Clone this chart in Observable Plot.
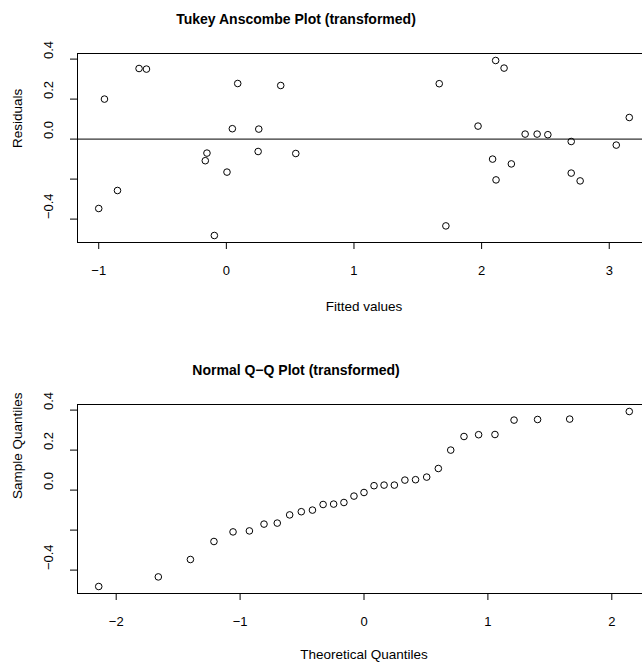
<!DOCTYPE html>
<html>
<head>
<meta charset="utf-8">
<script src="https://cdn.jsdelivr.net/npm/d3@7"></script>
<script src="https://cdn.jsdelivr.net/npm/@observablehq/plot@0.6"></script>
<style>
  html, body { margin: 0; padding: 0; background: white; }
  #wrap { position: relative; width: 642px; height: 662px; overflow: hidden; background: white;
          font-family: "Liberation Sans", Arial, Helvetica, sans-serif; }
  .panel { position: absolute; left: 0; z-index: 1; }
  .panel svg { max-width: none !important; display: block; }
  .main { position: absolute; z-index: 5; font-weight: bold; font-size: 14px; line-height: 14px;
          white-space: nowrap; transform: translateX(-50%); color: black; }
</style>
</head>
<body>
<div id="wrap">
  <div class="panel" id="p1" style="top:0px;"></div>
  <div class="panel" id="p2" style="top:351px;"></div>
  <div class="main" style="left:296px; top:11.5px;">Tukey Anscombe Plot (transformed)</div>
  <div class="main" style="left:296px; top:362.5px;">Normal Q−Q Plot (transformed)</div>
</div>
<script>
// ---- Tukey–Anscombe plot data (fitted value, residual) ----
const fittedValues = [
  -0.955, -0.684, -0.626, 0.089, 0.426, 0.047, 0.254, -0.152, -0.165, 0.249,
   0.544,  0.005, -0.853, -1.000, -0.094, 2.110, 2.176, 1.668, 1.972, 2.341,
   2.435,  2.519,  2.702,  3.055,  3.157, 2.086, 2.233, 2.113, 2.702, 2.772,
   1.720
];
const residuals = [
   0.200,  0.353,  0.350, 0.278, 0.268, 0.052, 0.050, -0.070, -0.108, -0.062,
  -0.072, -0.165, -0.257, -0.347, -0.482, 0.393, 0.355, 0.277, 0.065, 0.025,
   0.025,  0.022, -0.012, -0.030, 0.108, -0.100, -0.124, -0.204, -0.170, -0.209,
  -0.434
];

// ---- Normal Q-Q plot data ----
const qqTheoretical = [
  -2.141, -1.660, -1.401, -1.211, -1.057, -0.925, -0.807, -0.700, -0.600, -0.506,
  -0.416, -0.330, -0.245, -0.162, -0.081, 0.000, 0.081, 0.162, 0.245, 0.330,
   0.416,  0.506,  0.600,  0.700,  0.807, 0.925, 1.057, 1.211, 1.401, 1.660,
   2.141
];
const qqSample = [
  -0.482, -0.434, -0.347, -0.257, -0.209, -0.204, -0.170, -0.165, -0.124, -0.108,
  -0.100, -0.072, -0.070, -0.062, -0.030, -0.012, 0.022, 0.025, 0.025, 0.050,
   0.052,  0.065,  0.108,  0.200,  0.268, 0.277, 0.278, 0.350, 0.353, 0.355,
   0.393
];

// ---- Ticks and labels ----
const topXTicks = [-1, 0, 1, 2, 3];
const topXTickLabels = ["−1", "0", "1", "2", "3"];
const bottomXTicks = [-2, -1, 0, 1, 2];
const bottomXTickLabels = ["−2", "−1", "0", "1", "2"];
const yTicks = [-0.4, -0.2, 0.0, 0.2, 0.4];
const yTickLabels = ["−0.4", "", "0.0", "0.2", "0.4"];

// R-style axis range: data extent widened by 4% on each side
function rRange(vals) {
  const [a, b] = d3.extent(vals);
  const pad = (b - a) * 0.04;
  return [a - pad, b + pad];
}

function panel({xs, ys, xTicks, xTickLabels, xLabel, yLabel, zeroLine, xLabelOffset}) {
  const data = xs.map((x, i) => ({x, y: ys[i]}));
  const svg = Plot.plot({
    width: 670, height: 331,
    marginLeft: 77, marginRight: 20, marginTop: 53, marginBottom: 89,
    style: {fontFamily: "'Liberation Sans', Arial, Helvetica, sans-serif", background: "transparent", color: "black", overflow: "visible"},
    x: {domain: rRange(xs)},
    y: {domain: rRange(ys)},
    marks: [
      Plot.frame({stroke: "black", strokeWidth: 1}),
      zeroLine ? Plot.ruleY([0], {stroke: "black", strokeWidth: 1}) : null,
      Plot.axisX({ticks: xTicks, tickSize: 7, tickFormat: () => "", label: null, stroke: "black"}),
      Plot.axisY({ticks: yTicks, tickSize: 7, tickFormat: () => "", label: null, stroke: "black"}),
      Plot.text(xTicks, {x: d => d, text: (d, i) => xTickLabels[i], frameAnchor: "bottom", dy: 28,
        fontSize: 13, lineAnchor: "middle", fill: "black"}),
      Plot.text(yTicks, {y: d => d, text: (d, i) => yTickLabels[i], frameAnchor: "left", dx: -29,
        rotate: -90, fontSize: 13, lineAnchor: "middle", fill: "black"}),
      Plot.text([xLabel], {text: d => d, frameAnchor: "bottom", dy: xLabelOffset, fontSize: 13.5,
        lineAnchor: "middle", fill: "black"}),
      Plot.text([yLabel], {text: d => d, frameAnchor: "left", dx: -60, rotate: -90, fontSize: 13.5,
        lineAnchor: "middle", fill: "black"}),
      Plot.dot(data, {x: "x", y: "y", r: 3.3, stroke: "black", strokeWidth: 1, fill: "none"})
    ]
  });
  svg.style.maxWidth = "none";
  return svg;
}

document.getElementById("p1").appendChild(panel({
  xs: fittedValues, ys: residuals, xTicks: topXTicks, xTickLabels: topXTickLabels,
  xLabel: "Fitted values", yLabel: "Residuals", zeroLine: true, xLabelOffset: 64
}));
document.getElementById("p2").appendChild(panel({
  xs: qqTheoretical, ys: qqSample, xTicks: bottomXTicks, xTickLabels: bottomXTickLabels,
  xLabel: "Theoretical Quantiles", yLabel: "Sample Quantiles", zeroLine: false, xLabelOffset: 61
}));
</script>
</body>
</html>
